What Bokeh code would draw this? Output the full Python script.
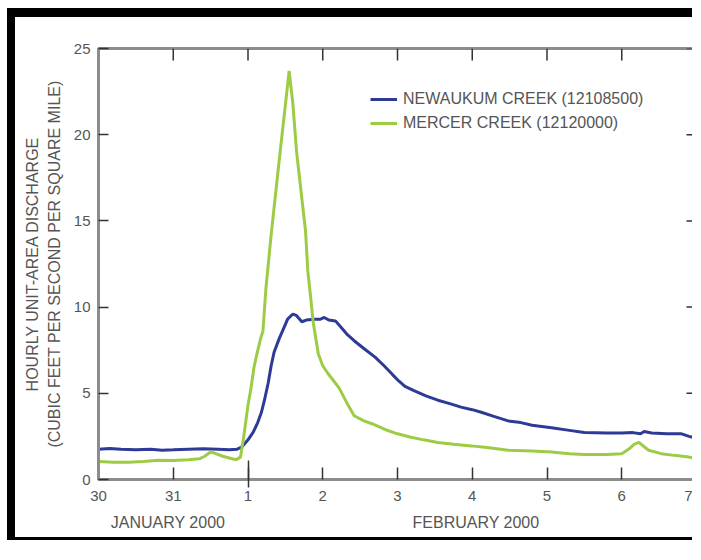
from bokeh.plotting import figure
from bokeh.models import FixedTicker, LinearAxis, Title, Legend, LegendItem, Range1d
from bokeh.embed import file_html
from bokeh.resources import INLINE

# ---- data (days since 30 January 2000, 00:00) ----
newaukum_day = [0.0, 0.15, 0.3, 0.5, 0.7, 0.85, 1.0, 1.2, 1.4, 1.6, 1.75, 1.85, 1.92, 2.0,
                2.07, 2.13, 2.18, 2.22, 2.27, 2.31, 2.35, 2.42, 2.48, 2.53, 2.6, 2.65, 2.72,
                2.78, 2.88, 2.97, 3.02, 3.08, 3.17, 3.25, 3.33, 3.42, 3.55, 3.7, 3.82, 3.93,
                4.02, 4.1, 4.22, 4.38, 4.54, 4.7, 4.85, 5.0, 5.12, 5.3, 5.48, 5.65, 5.8,
                6.06, 6.3, 6.5, 6.8, 7.0, 7.15, 7.25, 7.3, 7.4, 7.6, 7.8, 7.9, 8.0]
newaukum_q = [1.75, 1.8, 1.75, 1.72, 1.75, 1.7, 1.72, 1.75, 1.78, 1.75, 1.72, 1.75, 1.9, 2.3,
              2.75, 3.3, 3.9, 4.6, 5.6, 6.6, 7.4, 8.2, 8.8, 9.3, 9.6, 9.5, 9.15,
              9.25, 9.3, 9.3, 9.4, 9.25, 9.2, 8.8, 8.4, 8.05, 7.6, 7.1, 6.6, 6.1,
              5.7, 5.4, 5.15, 4.85, 4.6, 4.4, 4.2, 4.05, 3.9, 3.65, 3.4, 3.3, 3.15,
              3.0, 2.85, 2.72, 2.7, 2.7, 2.72, 2.65, 2.78, 2.7, 2.65, 2.65, 2.5, 2.4]

mercer_day = [0.0, 0.2, 0.4, 0.6, 0.8, 1.0, 1.2, 1.35, 1.42, 1.5, 1.57, 1.66, 1.75, 1.84,
              1.9, 1.94, 2.0, 2.04, 2.08, 2.12, 2.17, 2.2, 2.24, 2.31, 2.43, 2.52, 2.55,
              2.6, 2.65, 2.77, 2.8, 2.84, 2.87, 2.94, 3.0, 3.07, 3.15, 3.22, 3.34, 3.42,
              3.55, 3.65, 3.87, 4.0, 4.18, 4.35, 4.54, 4.75, 4.99, 5.2, 5.48, 5.8, 6.06,
              6.3, 6.5, 6.8, 7.0, 7.09, 7.17, 7.23, 7.3, 7.36, 7.53, 7.7, 7.9, 8.0]
mercer_q = [1.05, 1.0, 1.0, 1.05, 1.12, 1.1, 1.15, 1.2, 1.35, 1.6, 1.5, 1.35, 1.25, 1.15,
            1.3, 2.4, 4.3, 5.3, 6.5, 7.3, 8.2, 8.6, 11.1, 14.2, 19.0, 22.5, 23.7,
            21.8, 19.0, 14.4, 12.1, 10.5, 9.2, 7.3, 6.6, 6.15, 5.7, 5.3, 4.3, 3.7,
            3.4, 3.25, 2.84, 2.65, 2.45, 2.3, 2.15, 2.05, 1.95, 1.85, 1.7, 1.65, 1.6,
            1.5, 1.45, 1.45, 1.5, 1.75, 2.05, 2.15, 1.9, 1.7, 1.5, 1.4, 1.3, 1.2]

day_ticks = [0, 1, 2, 3, 4, 5, 6, 7, 8]
day_labels = ["30", "31", "1", "2", "3", "4", "5", "6", "7"]
month_break = [2]
month_pos = [0.93, 5.05]
month_labels = ["JANUARY 2000", "FEBRUARY 2000"]
y_ticks = [0, 5, 10, 15, 20, 25]
x_min, x_max = 0, 8
y_min, y_max = 0, 25

series_names = ["NEWAUKUM CREEK (12108500)", "MERCER CREEK (12120000)"]
blue = "#2d3a96"
green = "#9dcc44"

FONT = "Liberation Sans"
TXT = "#555555"
AX = "#8c8c8c"
TK = "#333333"

W, H = 685, 532
BL, BR, BT, BB = 83, 4, 31, 70
frame_w, frame_h = W - BL - BR, H - BT - BB
px_x = (x_max - x_min) / frame_w   # data units per pixel
px_y = (y_max - y_min) / frame_h

p = figure(width=W, height=H, x_range=Range1d(x_min, x_max), y_range=Range1d(y_min, y_max),
           output_backend="svg", toolbar_location=None,
           min_border_left=BL, min_border_top=BT, min_border_right=BR, min_border_bottom=BB)
p.xgrid.visible = False
p.ygrid.visible = False
p.outline_line_color = AX
p.outline_line_width = 3
p.background_fill_color = "white"
p.border_fill_color = "white"

r1 = p.line(newaukum_day, newaukum_q, line_color=blue, line_width=3)
r2 = p.line(mercer_day, mercer_q, line_color=green, line_width=3)

# inward ticks on top and right edges
p.segment(x0=day_ticks, y0=[y_max] * len(day_ticks), x1=day_ticks,
          y1=[y_max - 12 * px_y] * len(day_ticks), line_color=TK, line_width=1.5)
p.segment(x0=[x_max] * len(y_ticks), y0=y_ticks, x1=[x_max - 10 * px_x] * len(y_ticks),
          y1=y_ticks, line_color=TK, line_width=1.5)

def style_axis(ax):
    ax.axis_line_color = AX
    ax.axis_line_width = 3
    ax.major_tick_line_color = TK
    ax.major_tick_line_width = 1.5
    ax.minor_tick_line_color = TK
    ax.minor_tick_line_width = 1.5
    ax.major_label_text_font = FONT
    ax.major_label_text_font_size = "15px"
    ax.major_label_text_color = TXT
    ax.major_tick_out = 0

# bottom axis
xa = p.xaxis[0]
xa.ticker = FixedTicker(ticks=day_ticks, minor_ticks=month_break)
xa.major_label_overrides = {t: l for t, l in zip(day_ticks, day_labels)}
style_axis(xa)
xa.major_tick_in = 12
xa.minor_tick_in = 19
xa.minor_tick_out = 8
xa.major_label_standoff = 3

# month labels
ma = LinearAxis(ticker=FixedTicker(ticks=month_pos, minor_ticks=[]),
                major_label_overrides={t: l for t, l in zip(month_pos, month_labels)})
ma.axis_line_color = None
ma.major_tick_line_color = None
ma.minor_tick_line_color = None
ma.major_label_text_font = FONT
ma.major_label_text_font_size = "16px"
ma.major_label_text_color = TXT
ma.major_label_standoff = 4
p.add_layout(ma, "below")

# left axis
ya = p.yaxis[0]
ya.ticker = FixedTicker(ticks=y_ticks, minor_ticks=[])
style_axis(ya)
ya.major_tick_in = 10
ya.major_label_standoff = 8
ya.axis_label = "(CUBIC FEET PER SECOND PER SQUARE MILE)"
ya.axis_label_text_font = FONT
ya.axis_label_text_font_size = "16px"
ya.axis_label_text_font_style = "normal"
ya.axis_label_text_color = TXT
ya.axis_label_standoff = 8

t1 = Title(text="HOURLY UNIT-AREA DISCHARGE", align="center", text_font=FONT,
           text_font_size="16px", text_font_style="normal", text_color=TXT, standoff=3)
p.add_layout(t1, "left")

legend = Legend(items=[LegendItem(label=series_names[0], renderers=[r1]),
                       LegendItem(label=series_names[1], renderers=[r2])],
                location=(272, frame_h - 85), border_line_color=None, background_fill_alpha=0,
                padding=0, margin=0, spacing=4, glyph_height=20, glyph_width=27,
                label_standoff=6, label_height=20, label_text_font=FONT,
                label_text_font_size="16px", label_text_color=TXT)
p.add_layout(legend)

# black scan frame (top, left, bottom) with white page space around it (pure CSS)
p.styles = {"margin": "8px 0px 0px 7px", "border-style": "solid", "border-color": "black",
            "border-width": "9px 0px 3px 8px"}

open("out.html", "w").write(file_html(p, INLINE))
